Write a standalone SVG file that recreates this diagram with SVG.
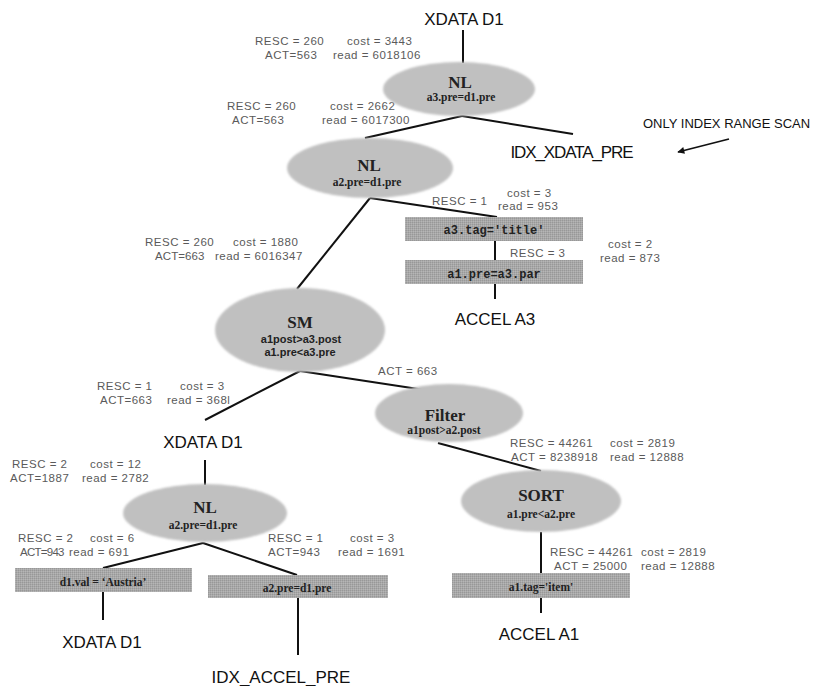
<svg xmlns="http://www.w3.org/2000/svg" width="816" height="686" viewBox="0 0 816 686">
  <defs>
    <pattern id="ovalTone" width="2" height="2" patternUnits="userSpaceOnUse">
      <rect width="2" height="2" fill="#c2c2c2"/>
      <rect width="1" height="1" fill="#b0b0b0"/>
      <rect x="1" y="1" width="1" height="1" fill="#cecece"/>
    </pattern>
    <pattern id="boxTone" width="2" height="2" patternUnits="userSpaceOnUse">
      <rect width="2" height="2" fill="#a8a8a8"/>
      <rect width="1" height="1" fill="#989898"/>
      <rect x="1" y="1" width="1" height="1" fill="#b6b6b6"/>
    </pattern>
    <filter id="soft" x="-5%" y="-10%" width="110%" height="120%">
      <feGaussianBlur stdDeviation="1"/>
    </filter>
    <marker id="arrowHead" viewBox="0 0 10 10" refX="9" refY="5" markerWidth="9" markerHeight="7" orient="auto" markerUnits="userSpaceOnUse">
      <path d="M0,0 L10,5 L0,10 Z" fill="#111"/>
    </marker>
  </defs>
  <style>
    .oval { fill: url(#ovalTone); filter: url(#soft); }
    .box { fill: url(#boxTone); }
    .edge { stroke: #111; stroke-width: 2; fill: none; }
    .lbl { font-family: "Liberation Sans", Arial, sans-serif; font-size: 11.5px; letter-spacing: 0.5px; fill: #5a5a5a; }
    .big { font-family: "Liberation Sans", Arial, sans-serif; font-size: 17px; fill: #111; text-anchor: middle; }
    .op { font-family: "Liberation Serif", "Times New Roman", serif; font-size: 17px; font-weight: bold; fill: #222; text-anchor: middle; }
    .cond { font-family: "Liberation Serif", "Times New Roman", serif; font-size: 11.5px; font-weight: bold; fill: #222; text-anchor: middle; }
    .condSans { font-family: "Liberation Sans", Arial, sans-serif; font-size: 11px; font-weight: bold; fill: #222; text-anchor: middle; }
    .condMono { font-family: "Liberation Mono", "Courier New", monospace; font-size: 12px; font-weight: bold; fill: #222; text-anchor: middle; }
    .note { font-family: "Liberation Sans", Arial, sans-serif; font-size: 13px; fill: #111; }
  </style>

  <rect width="816" height="686" fill="#ffffff"/>

  <!-- connectors -->
  <g id="connectors" class="edge">
    <line x1="463" y1="30" x2="463" y2="63"/>
    <line x1="462" y1="116" x2="365" y2="138"/>
    <line x1="462" y1="116" x2="573" y2="134"/>
    <line x1="370" y1="198" x2="297" y2="289"/>
    <line x1="370" y1="198" x2="497" y2="217"/>
    <line x1="495" y1="241" x2="495" y2="260"/>
    <line x1="495" y1="284" x2="495" y2="299"/>
    <line x1="300" y1="371" x2="205" y2="420"/>
    <line x1="300" y1="371" x2="438" y2="392"/>
    <line x1="438" y1="443" x2="541" y2="471"/>
    <line x1="205" y1="460" x2="205" y2="485"/>
    <line x1="203" y1="543" x2="103" y2="568"/>
    <line x1="203" y1="543" x2="297" y2="575"/>
    <line x1="103" y1="592" x2="103" y2="620"/>
    <line x1="298" y1="598" x2="298" y2="655"/>
    <line x1="541" y1="532" x2="541" y2="573"/>
    <line x1="541" y1="598" x2="541" y2="613"/>
  </g>

  <!-- cost annotations -->
  <g id="costs" class="lbl">
    <text x="255" y="45">RESC = 260</text><text x="347" y="45">cost = 3443</text>
    <text x="265" y="58.5">ACT=563</text><text x="333" y="58.5">read = 6018106</text>

    <text x="227" y="110">RESC = 260</text><text x="330" y="110">cost = 2662</text>
    <text x="232" y="123.5">ACT=563</text><text x="322" y="123.5">read = 6017300</text>

    <text x="432" y="205">RESC = 1</text><text x="507" y="196.5">cost = 3</text>
    <text x="498" y="210">read = 953</text>

    <text x="510" y="257">RESC = 3</text>
    <text x="608" y="248">cost = 2</text><text x="600" y="261.5">read = 873</text>

    <text x="145" y="246">RESC = 260</text><text x="233" y="246">cost = 1880</text>
    <text x="155" y="259.5" textLength="50">ACT=663</text><text x="215" y="259.5">read = 6016347</text>

    <text x="97" y="390">RESC = 1</text><text x="180" y="390">cost = 3</text>
    <text x="100" y="403.5">ACT=663</text><text x="167" y="403.5">read = 368l</text>

    <text x="378" y="375">ACT = 663</text>

    <text x="12" y="468">RESC = 2</text><text x="90" y="468">cost = 12</text>
    <text x="10" y="481.5">ACT=1887</text><text x="82" y="481.5">read = 2782</text>

    <text x="510" y="447">RESC = 44261</text><text x="610" y="447">cost = 2819</text>
    <text x="511" y="460.5">ACT = 8238918</text><text x="610" y="460.5">read = 12888</text>

    <text x="18" y="542">RESC = 2</text><text x="90" y="542">cost = 6</text>
    <text x="20" y="555.5" textLength="45">ACT=943</text><text x="69" y="555.5">read = 691</text>

    <text x="268" y="542">RESC = 1</text><text x="350" y="542">cost = 3</text>
    <text x="268" y="555.5">ACT=943</text><text x="338" y="555.5">read = 1691</text>

    <text x="550" y="556">RESC = 44261</text><text x="641" y="556">cost = 2819</text>
    <text x="554" y="569.5">ACT = 25000</text><text x="641" y="569.5">read = 12888</text>
  </g>

  <!-- tables and indexes -->
  <g id="xdata-top"><text class="big" x="464" y="25">XDATA D1</text></g>
  <g id="idx-xdata-pre"><text class="big" x="572" y="158" textLength="123">IDX_XDATA_PRE</text></g>
  <g id="accel-a3"><text class="big" x="495" y="325">ACCEL A3</text></g>
  <g id="xdata-mid"><text class="big" x="203" y="448">XDATA D1</text></g>
  <g id="xdata-bottom"><text class="big" x="102" y="648">XDATA D1</text></g>
  <g id="idx-accel-pre"><text class="big" x="281" y="683">IDX_ACCEL_PRE</text></g>
  <g id="accel-a1"><text class="big" x="539" y="640">ACCEL A1</text></g>

  <!-- note with arrow -->
  <g id="note">
    <text class="note" x="643" y="128">ONLY INDEX RANGE SCAN</text>
    <line x1="729" y1="139" x2="678" y2="152" stroke="#111" stroke-width="1.8" marker-end="url(#arrowHead)"/>
  </g>

  <!-- join / sort / filter operators -->
  <g id="nl-a3">
    <ellipse class="oval" cx="459" cy="89" rx="76" ry="27"/>
    <text class="op" x="460" y="88">NL</text>
    <text class="cond" x="461" y="101">a3.pre=d1.pre</text>
  </g>
  <g id="nl-a2">
    <ellipse class="oval" cx="370" cy="168" rx="83" ry="30"/>
    <text class="op" x="369" y="171">NL</text>
    <text class="cond" x="367" y="186">a2.pre=d1.pre</text>
  </g>
  <g id="sm">
    <ellipse class="oval" cx="300" cy="330" rx="85" ry="42"/>
    <text class="op" x="300" y="328" font-weight="normal">SM</text>
    <text class="condSans" x="301" y="343">a1post&gt;a3.post</text>
    <text class="condSans" x="300" y="356">a1.pre&lt;a3.pre</text>
  </g>
  <g id="filter">
    <ellipse class="oval" cx="449" cy="413" rx="74" ry="29"/>
    <text class="op" x="445" y="421">Filter</text>
    <text class="cond" x="444" y="434">a1post&gt;a2.post</text>
  </g>
  <g id="sort">
    <ellipse class="oval" cx="541" cy="501" rx="80" ry="31"/>
    <text class="op" x="541" y="501">SORT</text>
    <text class="cond" x="541" y="518">a1.pre&lt;a2.pre</text>
  </g>
  <g id="nl-d1">
    <ellipse class="oval" cx="205" cy="513" rx="82" ry="29"/>
    <text class="op" x="205" y="513">NL</text>
    <text class="cond" x="203" y="529">a2.pre=d1.pre</text>
  </g>

  <!-- selection predicates -->
  <g id="sel-a3-tag">
    <rect class="box" x="405" y="217" width="178" height="24"/>
    <text class="condMono" x="494" y="234">a3.tag='title'</text>
  </g>
  <g id="sel-a1-pre">
    <rect class="box" x="405" y="260" width="178" height="24"/>
    <text class="condMono" x="494" y="278">a1.pre=a3.par</text>
  </g>
  <g id="sel-d1-val">
    <rect class="box" x="15" y="568" width="177" height="24"/>
    <text class="cond" x="103" y="586">d1.val = ‘Austria’</text>
  </g>
  <g id="sel-a2-pre">
    <rect class="box" x="208" y="575" width="180" height="23"/>
    <text class="cond" x="297" y="592">a2.pre=d1.pre</text>
  </g>
  <g id="sel-a1-tag">
    <rect class="box" x="452" y="573" width="178" height="25"/>
    <text class="cond" x="541" y="591">a1.tag='item'</text>
  </g>
</svg>
